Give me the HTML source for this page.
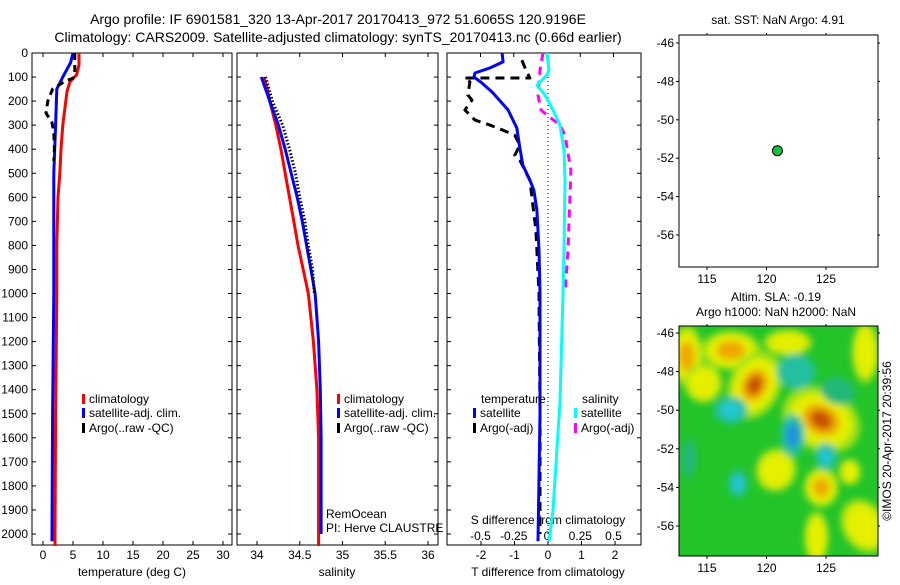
<!DOCTYPE html>
<html><head><meta charset="utf-8">
<style>
body{margin:0;background:#fff;width:900px;height:580px;overflow:hidden}
svg{font-family:"Liberation Sans",sans-serif;font-size:12px}
</style></head>
<body>
<svg id="c" width="900" height="580" xmlns="http://www.w3.org/2000/svg">
<text x="338" y="24" text-anchor="middle" font-size="14">Argo profile: IF 6901581_320 13-Apr-2017 20170413_972 51.6065S 120.9196E</text>
<text x="338" y="42" text-anchor="middle" font-size="14">Climatology: CARS2009. Satellite-adjusted climatology: synTS_20170413.nc (0.66d earlier)</text>
<g id="g"></g>
</svg>
<script>
// ---- data ----
const depthTicks=[0,100,200,300,400,500,600,700,800,900,1000,1100,1200,1300,1400,1500,1600,1700,1800,1900,2000];
const tempTicks=[0,5,10,15,20,25,30];
const salTicks=[34,34.5,35,35.5,36];
const salTickLabels=["34","34.5","35","35.5","36"];
const dTTicks=[-2,-1,0,1,2];
const dSTicks=[-0.5,-0.25,0,0.25,0.5];
const dSTickLabels=["-0.5","-0.25","0","0.25","0.5"];
const latTicks=[-46,-48,-50,-52,-54,-56];
const lonTicks=[115,120,125];

const tClimD=[0,50,90,120,160,200,300,400,500,600,800,1000,1500,2000,2050];
const tClimV=[6.0,6.0,5.6,4.5,4.0,3.8,3.3,3.0,2.8,2.5,2.3,2.3,2.1,2.0,2.0];
const tSatD=[0,40,100,150,300,500,1000,1500,2000,2030];
const tSatV=[5.0,4.6,3.3,2.3,2.1,1.8,1.8,1.6,1.5,1.5];
const tArgoD=[0,80,105,115,150,200,250,290,330,400,450];
const tArgoV=[5.3,5.3,5.0,3.8,1.6,0.8,0.5,1.5,1.8,1.9,1.8];

const sClimD=[100,150,200,300,400,500,600,700,800,900,1000,1100,1200,1400,1600,2000,2050];
const sClimV=[34.08,34.12,34.15,34.22,34.28,34.33,34.38,34.43,34.48,34.54,34.6,34.63,34.66,34.7,34.72,34.72,34.72];
const sSatD=[100,150,200,300,400,500,600,700,800,900,1000,1100,1200,1400,1600,2000];
const sSatV=[34.05,34.1,34.15,34.25,34.33,34.4,34.47,34.53,34.58,34.63,34.68,34.7,34.72,34.74,34.75,34.75];
const sArgoD=[100,200,300,400,500,600,700,800,900,1000];
const sArgoV=[34.1,34.18,34.3,34.38,34.45,34.5,34.56,34.6,34.65,34.67];

const dTSatD=[0,37,62,83,100,125,162,237,312,396,467,529,571,654,820,1000,1500,2030];
const dTSatV=[-1.37,-1.34,-1.73,-2.18,-2.21,-1.97,-1.67,-1.19,-0.93,-0.84,-0.75,-0.54,-0.42,-0.33,-0.27,-0.24,-0.24,-0.3];
const dTArgoD=[30,71,104,104,120,175,196,237,279,300,321,342,383,425,446,529,737,1000,1500,2000];
const dTArgoV=[-0.78,-0.66,-0.54,-2.5,-2.33,-2.39,-2.27,-2.48,-2.18,-1.73,-1.34,-0.99,-0.84,-0.99,-0.84,-0.54,-0.36,-0.27,-0.24,-0.24];
const dSSatD=[0,71,91,133,175,237,300,404,529,820,1000,1450,1900,2030];
const dSSatV=[0,0.015,0,-0.075,-0.015,0.045,0.098,0.128,0.135,0.128,0.12,0.098,0.045,0.015];
const dSArgoD=[0,71,175,237,258,300,342,487,820,1000];
const dSArgoV=[-0.03,-0.053,-0.068,-0.045,0,0.098,0.135,0.18,0.158,0.135];

const floatLon=[120.92], floatLat=[-51.61];
// SLA features: lon, lat, amplitude(+warm/-cool), radius lon, radius lat, rotation deg
const blobLon=[113.3,117,119,124.6,114.7,121.8,120.8,124.6,124.2,128.2,128.3,117,122.2,125,117.6,122.5,126,113.5,127];
const blobLat=[-47.2,-46.9,-48.7,-50.5,-48.6,-46.5,-53.1,-54,-56.6,-56,-47,-50,-51.3,-52.4,-53.8,-48,-49,-52.5,-53.2];
const blobAmp=[0.7,0.7,1,1,0.4,0.4,0.45,0.7,0.5,0.5,0.4,-0.6,-0.8,-0.6,-0.6,-0.4,-0.3,-0.3,0.35];
const blobRx=[1.2,2.2,1.9,3.0,1.4,1.8,1.5,1.3,0.9,1.6,1.0,1.4,1.0,0.9,0.8,1.6,1.5,0.6,0.8];
const blobRy=[1.4,0.9,1.6,1.4,0.9,0.6,1.0,0.9,1.2,1.3,1.4,0.7,1.1,0.7,0.7,0.9,0.7,1.0,0.6];
const blobRot=[0,0,25,28,0,0,20,0,0,-30,0,0,0,0,0,0,20,0,0];

// ---- scales ----
const P1={x0:32,x1:232},P2={x0:237,x1:438},P3={x0:447,x1:641};
const yTop=53, yBot=545;
const yD=d=>yTop+d*0.2405;
const xT=v=>43+v*6;
const xS=v=>257+(v-34)*85.5;
const xDT=v=>548+v*33.5;
const xDS=v=>547+v*133;
const M1={x0:679,x1:878,y0:35,y1:267}, M2={x0:679,x1:878,y0:326,y1:556};
const xLon=v=>707+(v-115)*11.9;
const yLat1=v=>43+(-46-v)*19.2;
const yLat2=v=>333+(-46-v)*19.3;

const NS="http://www.w3.org/2000/svg";
const G=document.getElementById('g');
function mk(tag,at,parent){const e=document.createElementNS(NS,tag);for(const k in at)e.setAttribute(k,at[k]);(parent||G).appendChild(e);return e;}
function txt(x,y,s,anchor,size){const e=mk('text',{x:x,y:y,'text-anchor':anchor||'middle','font-size':size||12});e.textContent=s;return e;}

function frame(P,name){
  const r=mk('rect',{x:P.x0,y:yTop,width:P.x1-P.x0,height:yBot-yTop,fill:'none',stroke:'#000','stroke-width':1});
  
  
  depthTicks.forEach(d=>{const y=yD(d);mk('line',{x1:P.x0,x2:P.x0+4,y1:y,y2:y,stroke:'#000'});mk('line',{x1:P.x1-4,x2:P.x1,y1:y,y2:y,stroke:'#000'});});
}
function line(xs,D,V,fx,color,w,dash,name){
  const pts=D.map((d,i)=>fx(V[i]).toFixed(1)+','+yD(d).toFixed(1)).join(' ');
  const at={points:pts,fill:'none',stroke:color,'stroke-width':w,'stroke-linejoin':'round'};
  if(dash)at['stroke-dasharray']=dash;
  const e=mk('polyline',at);
  
  
}
function legend(x,y,color,label,name){
  mk('rect',{x:x,y:y-9,width:3,height:10,fill:color});
  const t=txt(x+7,y,label,'start');
  
  
}

// Panel 1
frame(P1,'temperature-panel');
depthTicks.forEach(d=>{const t=txt(28,yD(d)+4,String(d),'end');});
tempTicks.forEach(v=>{const x=xT(v);mk('line',{x1:x,x2:x,y1:yBot,y2:yBot-4,stroke:'#000'});mk('line',{x1:x,x2:x,y1:yTop,y2:yTop+4,stroke:'#000'});txt(x,yBot+14,String(v));});
let a=txt(132,576,'temperature (deg C)');
line(0,tClimD,tClimV,xT,'#f00',3,null,'temp-climatology-line');
line(0,tSatD,tSatV,xT,'#00f',3,null,'temp-satellite-line');
line(0,tArgoD,tArgoV,xT,'#000',3,'7,5','temp-argo-line');
legend(82,403,'#f00','climatology','legend-climatology');
legend(82,417,'#00f','satellite-adj. clim.','legend-satellite');
legend(82,432,'#000','Argo(..raw -QC)','legend-argo');

// Panel 2
frame(P2,'salinity-panel');
salTicks.forEach((v,i)=>{const x=xS(v);mk('line',{x1:x,x2:x,y1:yBot,y2:yBot-4,stroke:'#000'});mk('line',{x1:x,x2:x,y1:yTop,y2:yTop+4,stroke:'#000'});txt(x,yBot+14,salTickLabels[i]);});
a=txt(337,576,'salinity');
line(0,sClimD,sClimV,xS,'#f00',3,null,'sal-climatology-line');
line(0,sSatD,sSatV,xS,'#00f',3,null,'sal-satellite-line');
line(0,sArgoD,sArgoV,xS,'#000',3,'1.5,2','sal-argo-line');
legend(337,403,'#f00','climatology','legend-climatology-2');
legend(337,417,'#00f','satellite-adj. clim.','legend-satellite-2');
legend(337,432,'#000','Argo(..raw -QC)','legend-argo-2');
txt(326,518,'RemOcean','start');txt(326,532,'PI: Herve CLAUSTRE','start');

// Panel 3
frame(P3,'difference-panel');
mk('line',{x1:xDT(0),x2:xDT(0),y1:yTop,y2:yBot,stroke:'#000','stroke-dasharray':'1,3'});
dTTicks.forEach(v=>{const x=xDT(v);mk('line',{x1:x,x2:x,y1:yBot,y2:yBot-4,stroke:'#000'});txt(x,yBot+14,String(v));});
dSTicks.forEach((v,i)=>{const x=xDS(v);mk('line',{x1:x,x2:x,y1:yTop,y2:yTop+4,stroke:'#000'});txt(x,540,dSTickLabels[i]);});
a=txt(548,524,'S difference from climatology');
a=txt(548,576,'T difference from climatology');
line(0,dTArgoD,dTArgoV,xDT,'#000',3,'9,6','dT-argo-line');
line(0,dTSatD,dTSatV,xDT,'#00f',3,null,'dT-satellite-line');
line(0,dSArgoD,dSArgoV,xDS,'#f0f',3,'8,6','dS-argo-line');
line(0,dSSatD,dSSatV,xDS,'#0ff',3,null,'dS-satellite-line');
txt(481,403,'temperature','start');txt(582,403,'salinity','start');
legend(473,417,'#00f','satellite','legend-t-satellite');
legend(473,432,'#000','Argo(-adj)','legend-t-argo');
legend(574,417,'#0ff','satellite','legend-s-satellite');
legend(574,432,'#f0f','Argo(-adj)','legend-s-argo');

// Map frames
function mapAxes(M,yLat,name){
  const r=mk('rect',{x:M.x0,y:M.y0,width:M.x1-M.x0,height:M.y1-M.y0,fill:'none',stroke:'#000'});
  
  
  latTicks.forEach(v=>{const y=yLat(v);mk('line',{x1:M.x0-3,x2:M.x0,y1:y,y2:y,stroke:'#000'});mk('line',{x1:M.x1,x2:M.x1+2,y1:y,y2:y,stroke:'#000'});txt(M.x0-5,y+4,String(v),'end');});
  lonTicks.forEach(v=>{const x=xLon(v);mk('line',{x1:x,x2:x,y1:M.y1,y2:M.y1+3,stroke:'#000'});mk('line',{x1:x,x2:x,y1:M.y0-2,y2:M.y0,stroke:'#000'});txt(x,M.y1+16,String(v));});
}
// SLA heatmap
const defs=mk('defs',{});
const flt=mk('filter',{id:'bl',x:'-50%',y:'-50%',width:'200%',height:'200%'},defs);
mk('feGaussianBlur',{stdDeviation:'3.5'},flt);
const cp=mk('clipPath',{id:'mc'},defs);
mk('rect',{x:M2.x0,y:M2.y0,width:M2.x1-M2.x0,height:M2.y1-M2.y0},cp);
const hg=mk('g',{'clip-path':'url(#mc)'});


mk('rect',{x:M2.x0,y:M2.y0,width:M2.x1-M2.x0,height:M2.y1-M2.y0,fill:'#22c42a'},hg);
const bg=mk('g',{filter:'url(#bl)'},hg);
blobLon.forEach((lon,i)=>{
  const amp=blobAmp[i];
  const cx=xLon(lon),cy=yLat2(blobLat[i]),rx=blobRx[i]*11.9,ry=blobRy[i]*19.3;
  const tr='rotate('+blobRot[i]+' '+cx+' '+cy+')';
  if(amp>0){
    mk('ellipse',{cx:cx,cy:cy,rx:rx*1.15,ry:ry*1.15,fill:'#9ee018',transform:tr},bg);
    const e=mk('ellipse',{cx:cx,cy:cy,rx:rx*0.9,ry:ry*0.9,fill:'#e4f000',transform:tr},bg);
    
    
    if(amp>0.55)mk('ellipse',{cx:cx,cy:cy,rx:rx*0.55,ry:ry*0.55,fill:'#f0a800',transform:tr},bg);
    if(amp>0.9)mk('ellipse',{cx:cx,cy:cy,rx:rx*0.32,ry:ry*0.32,fill:'#c85000',transform:tr},bg);
  }else{
    const e=mk('ellipse',{cx:cx,cy:cy,rx:rx,ry:ry,fill:amp<-0.35?'#20c0a0':'#20b878',transform:tr},bg);
    
    
    if(amp<-0.55)mk('ellipse',{cx:cx,cy:cy,rx:rx*0.55,ry:ry*0.55,fill:amp<-0.7?'#2090e0':'#20c8d8',transform:tr},bg);
  }
});
mapAxes(M1,yLat1,'sst-map');
mapAxes(M2,yLat2,'sla-map');
const dot=mk('circle',{cx:xLon(floatLon[0]),cy:yLat1(floatLat[0]),r:5,fill:'#10c040',stroke:'#000','stroke-width':1});


a=txt(778,24,'sat. SST: NaN Argo: 4.91');
a=txt(776,301,'Altim. SLA: -0.19');
txt(776,316,'Argo h1000: NaN h2000: NaN');
a=txt(0,0,'©IMOS 20-Apr-2017 20:39:56');
a.setAttribute('transform','translate(891,441) rotate(-90)');

</script>
</body></html>
